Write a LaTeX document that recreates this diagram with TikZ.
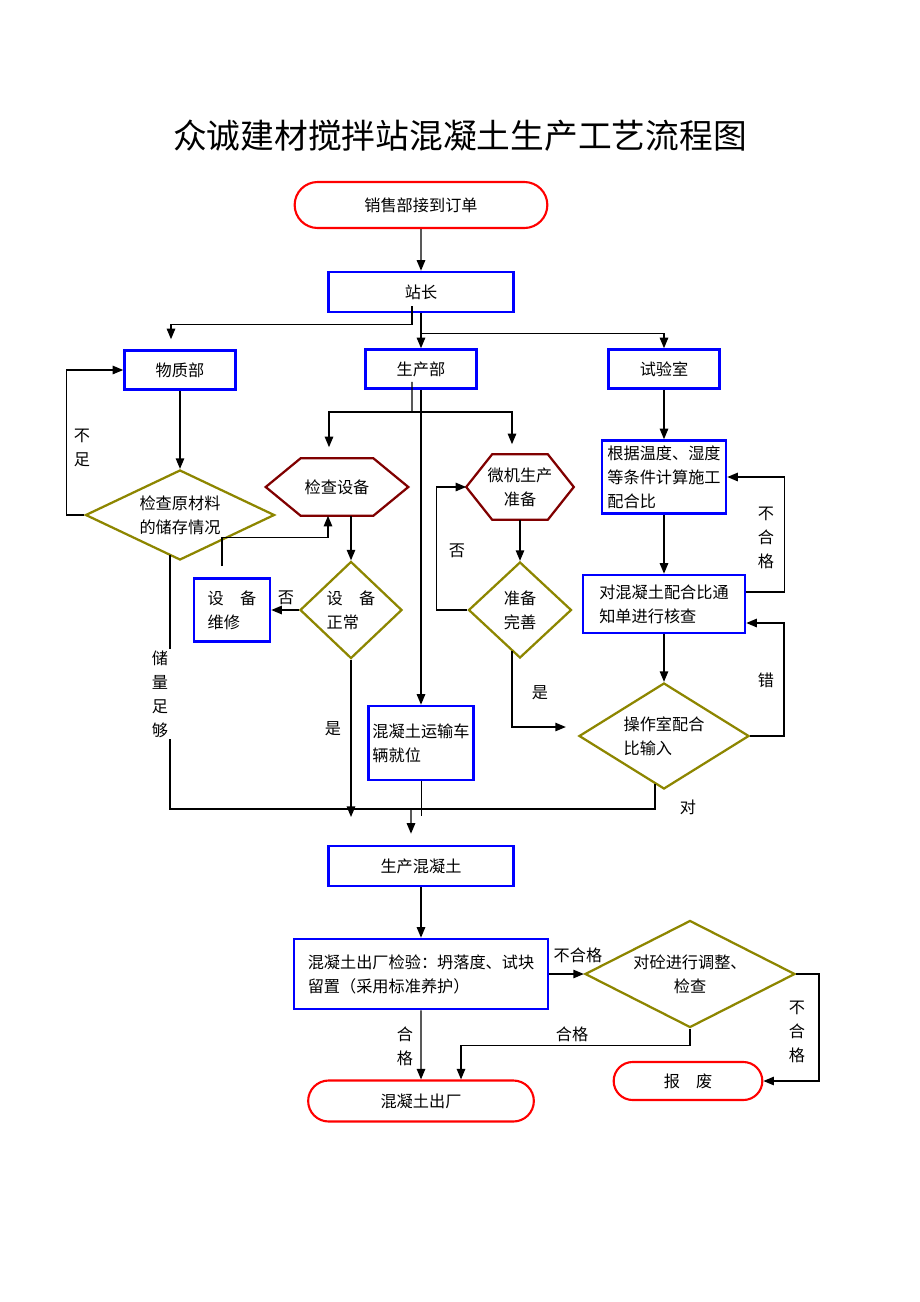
\documentclass[tikz,border=0pt]{standalone}
\usepackage{fontspec}
\setmainfont{Noto Sans CJK SC}
\usetikzlibrary{arrows.meta,shapes.geometric,shapes.misc}

\begin{document}
\begin{tikzpicture}[x=0.025cm,y=-0.025cm,
  font=\fontsize{11.5pt}{17pt}\selectfont,
  box/.style={draw=blue,line width=1.8pt,rectangle,inner sep=2pt},
  oval/.style={draw=red,line width=1.5pt,rounded rectangle},
  dia/.style={draw=olive,line width=1.6pt,diamond,inner sep=0pt},
  hexa/.style={inner sep=0pt},
  hexline/.style={draw=red!50!black,line width=1.6pt},
  ln/.style={line width=1pt},
  arr/.style={ln,-{Triangle[length=7.5pt,width=6pt]}},
  vlab/.style={align=center,inner sep=1pt}]%,>=latex]
  \useasboundingbox (0,0) rectangle (920,1302);
  \node (tt) at (460,136) {\fontsize{24pt}{28pt}\selectfont 众诚建材搅拌站混凝土生产工艺流程图};
  \node[oval, minimum width=6.55cm, minimum height=1.15cm] (xs) at (421,205) {销售部接到订单};
  \node[box, minimum width=4.625cm, minimum height=1cm] (zz) at (421,292) {站长};
  \node[box, minimum width=2.775cm, minimum height=0.975cm] (wz) at (180,370) {物质部};
  \node[box, minimum width=2.775cm, minimum height=0.975cm] (sc) at (421,369) {生产部};
  \node[box, minimum width=2.775cm, minimum height=0.975cm] (sy) at (664,369) {试验室};
  \node[dia, shape aspect=2, minimum width=4.725cm, minimum height=2.25cm, align=center] (yc) at (180,515) {检查原材料\\的储存情况};
  \node[hexa, minimum width=3.55cm, minimum height=1.425cm] (jc) at (337,487) {检查设备};
  \node[hexa, minimum width=2.675cm, minimum height=1.625cm, align=center] (wj) at (520,487) {微机生产\\准备};
  \node[dia, minimum width=2.55cm, minimum height=2.425cm, align=left] (sz) at (351,610) {设　备\\正常};
  \node[box, minimum width=1.9cm, minimum height=1.575cm, align=left] (wx) at (232,610) {设　备\\维修};
  \node[dia, minimum width=2.575cm, minimum height=2.4cm, align=center] (zs) at (520,610) {准备\\完善};
  \node[box, minimum width=2.625cm, minimum height=1.85cm, align=left, inner sep=1pt] (ys) at (421,743) {混凝土运输车\\辆就位};
  \node[box, minimum width=3.1cm, minimum height=1.825cm, align=left] (gj) at (664,477) {根据温度、湿度\\等条件计算施工\\配合比};
  \node[box, minimum width=4.05cm, minimum height=1.45cm, align=left] (dh) at (664,604) {对混凝土配合比通\\知单进行核查};
  \node[dia, shape aspect=1.6, minimum width=4.25cm, minimum height=2.65cm, align=left] (cz) at (664,736) {操作室配合\\比输入};
  \node[box, minimum width=4.625cm, minimum height=1cm] (sh) at (421,866) {生产混凝土};
  \node[box, minimum width=6.35cm, minimum height=1.75cm, align=left] (jy) at (421,974) {混凝土出厂检验：坍落度、试块\\留置（采用标准养护）};
  \node[dia, shape aspect=2, minimum width=5.25cm, minimum height=2.675cm, align=center] (dt) at (690,974) {对砼进行调整、\\检查};
  \node[oval, minimum width=5.875cm, minimum height=1.025cm] (cc) at (421,1101) {混凝土出厂};
  \node[oval, minimum width=3.95cm, minimum height=0.95cm] (bf) at (688,1081) {报　废};
  \draw[hexline] (jc.west) -- ([xshift=0.875cm]jc.north west) -- ([xshift=-0.875cm]jc.north east) -- (jc.east) -- ([xshift=-0.875cm]jc.south east) -- ([xshift=0.875cm]jc.south west) -- cycle;
  \draw[hexline] (wj.west) -- ([xshift=0.65cm]wj.north west) -- ([xshift=-0.65cm]wj.north east) -- (wj.east) -- ([xshift=-0.65cm]wj.south east) -- ([xshift=0.65cm]wj.south west) -- cycle;
  \coordinate (sf) at (412,412);
  \coordinate (hb) at (411,809);
  \coordinate (sd) at (351,817);
  \draw[arr] (xs) -- (zz);
  \draw[arr, shorten >=0.25cm] ([xshift=-0.225cm,yshift=0.175cm]zz.south) -- ++(0,18) -| ([xshift=-0.225cm]wz.north);
  \draw[arr] (zz) -- (sc);
  \draw[arr] (zz.south) -- ++(0,20) -| (sy.north);
  \draw[arr] (wz) -- (yc);
  \draw[arr] (yc.west) -- ++(-18,0) |- (wz.west);
  \node[vlab] (bz) at (82,448) {不\\足};
  \draw[ln] ([xshift=-0.25cm,yshift=0.15cm]yc.south) |- (hb);
  \node[vlab, fill=white, inner xsep=6pt] (zg) at (160,694) {储\\量\\足\\够};
  \draw[arr] (sc) -- (ys);
  \draw[thin] (ys.south) -- ++(0,35);
  \draw[arr, shorten >=0.275cm] (hb) -- ([xshift=-0.25cm]sh.north);
  \draw[arr] (sz.south) -- (sd);
  \node (s1) at (333,729) {是};
  \draw[ln] ([xshift=-0.225cm,yshift=0.2cm]sc.south) -- (sf);
  \draw[arr, shorten >=0.275cm] (sf) -| ([xshift=-0.2cm]jc.north);
  \draw[arr, shorten >=0.25cm] (sf) -| ([xshift=-0.2cm]wj.north);
  \draw[arr] (sz.north |- jc.south) -- (sz.north);
  \draw[arr] (sz.west) -- (wx.east);
  \node (f1) at (286,598) {否};
  \draw[arr] ([xshift=-0.25cm,yshift=0.275cm]wx.north) -- ++(0,-29) -| ([xshift=-0.225cm]jc.south);
  \draw[arr] (wj) -- (zs);
  \draw[arr] (zs.west) -- ++(-31,0) |- (wj.west);
  \node (f2) at (457,551) {否};
  \draw[arr] ([xshift=-0.2cm,yshift=0.2cm]zs.south) |- ([xshift=-0.3cm,yshift=0.225cm]cz.west);
  \node (s2) at (540,693) {是};
  \draw[arr] (sy) -- (gj);
  \draw[arr] (gj) -- (dh);
  \draw[arr] (dh) -- (cz);
  \draw[arr] ([yshift=0.3cm]dh.east) -- ++(38,0) |- (gj.east);
  \node[vlab] (bh1) at (766,538) {不\\合\\格};
  \draw[arr] (cz.east) -- ++(34,0) |- ([yshift=-0.475cm]dh.east);
  \node (cw) at (766,680) {错};
  \draw[ln] ([xshift=-0.225cm,yshift=0.15cm]cz.south) |- (hb);
  \node (dui) at (688,807) {对};
  \draw[arr] (sh) -- (jy);
  \draw[arr] (jy) -- (cc);
  \node[vlab] (hg1) at (405,1046) {合\\格};
  \draw[arr] (jy.east) -- (dt.west);
  \node (bh2) at (578,955) {不合格};
  \draw[arr] (dt.east) -- ++(23,0) |- (bf.east);
  \node[vlab] (bh3) at (797,1032) {不\\合\\格};
  \draw[arr] (dt.south) -- ++(0,17) -| ([xshift=1cm]cc.north);
  \node (hg2) at (572,1034) {合格};
\end{tikzpicture}
\end{document}
